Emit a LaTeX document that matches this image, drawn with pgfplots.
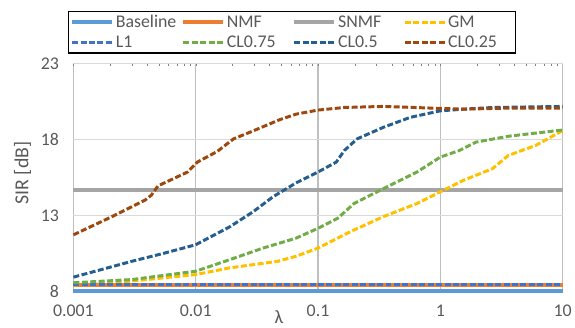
\documentclass[border=0pt]{standalone}
\usepackage{pgfplots}
\pgfplotsset{compat=1.18}
\usepackage{fontspec}
\setmainfont{Carlito}
\definecolor{cBase}{HTML}{5B9BD5}
\definecolor{cNMF}{HTML}{ED7D31}
\definecolor{cSNMF}{HTML}{A5A5A5}
\definecolor{cGM}{HTML}{FFC000}
\definecolor{cL1}{HTML}{4472C4}
\definecolor{cCL75}{HTML}{70AD47}
\definecolor{cCL5}{HTML}{255E91}
\definecolor{cCL25}{HTML}{9E480E}
\definecolor{txt}{HTML}{595959}
\begin{document}
\begin{tikzpicture}
\begin{axis}[
  name=ax,
  scale only axis,
  width=493pt, height=230pt,
  xmode=log,
  xmin=0.001, xmax=10,
  ymin=8, ymax=23,
  xtick={0.001,0.01,0.1,1,10},
  xticklabels={0.001,0.01,0.1,1,10},
  ytick={8,13,18,23},
  minor xtick={},
  axis line style={draw=none},
  major tick length=0pt,
  xmajorgrids, ymajorgrids,
  x grid style={black!25, line width=1.2pt},
  y grid style={black!15, line width=1.2pt},
  tick label style={font=\fontsize{18}{20}\selectfont, text=txt},
  /pgf/number format/assume math mode=true,
  xticklabel style={yshift=-10pt},
  yticklabel style={xshift=-11pt},
  ylabel={SIR [dB]},
  every axis y label/.style={at={(axis description cs:-0.104,0.52)}, rotate=90, anchor=center,
     font=\fontsize{20}{22}\selectfont, text=txt},
  xlabel={λ},
  every axis x label/.style={at={(axis description cs:0.42,0)}, anchor=north, yshift=-16pt,
     font=\fontsize{19}{20}\selectfont, text=txt},
  clip=false,
  legend columns=4,
  legend style={at={(rel axis cs:-0.012,1.232)}, anchor=north west,
    draw=black, line width=1.2pt, solid, font=\fontsize{18}{19}\selectfont,
    text=txt, inner sep=2pt, row sep=3pt,
    nodes={text width=64pt, align=left, inner xsep=2pt, inner ysep=2pt}},
  legend cell align=left,
  legend image code/.code={\draw[#1] (0pt,0pt) -- (40pt,0pt);},
]
\addplot[cBase, line width=4pt, solid] coordinates {(0.001,8.05) (10,8.05)};
\addlegendentry{Baseline}
\addplot[cNMF, line width=4pt, solid] coordinates {(0.001,8.45) (10,8.45)};
\addlegendentry{NMF}
\addplot[cSNMF, line width=4pt, solid] coordinates {(0.001,14.7) (10,14.7)};
\addlegendentry{SNMF}
\addplot[cGM, line width=3pt, dash pattern=on 6pt off 2.5pt] coordinates {
(0.001,8.44) (0.003,8.7) (0.01,9.13) (0.019,9.57) (0.0468,10.0) (0.066,10.33) (0.1,10.87)
(0.185,11.96) (0.343,12.94) (0.645,13.8) (1,14.57) (1.55,15.33) (2.67,16.09) (3.6,16.96)
(6.0,17.61) (10,18.59)};
\addlegendentry{GM}
\addplot[cL1, line width=3pt, dash pattern=on 6pt off 2.5pt] coordinates {(0.001,8.45) (10,8.45)};
\addlegendentry{L1}
\addplot[cCL75, line width=3pt, dash pattern=on 6pt off 2.5pt] coordinates {
(0.001,8.59) (0.003,8.8) (0.01,9.35) (0.019,10.11) (0.0355,10.87) (0.066,11.52) (0.1,12.17)
(0.145,12.83) (0.197,13.8) (0.343,14.78) (0.645,15.87) (1,16.85) (1.43,17.28) (1.95,17.83)
(3.6,18.22) (10,18.63)};
\addlegendentry{CL0.75}
\addplot[cCL5, line width=3pt, dash pattern=on 6pt off 2.5pt] coordinates {
(0.001,8.96) (0.003,10.0) (0.00556,10.54) (0.01,11.09) (0.0191,12.28) (0.0295,13.26)
(0.0428,14.24) (0.066,15.15) (0.1,15.87) (0.141,16.52) (0.164,17.28) (0.209,18.05)
(0.343,18.81) (0.567,19.46) (1,19.89) (1.55,20.0) (2.67,20.11) (10,20.18)};
\addlegendentry{CL0.5}
\addplot[cCL25, line width=3pt, dash pattern=on 6pt off 2.5pt] coordinates {
(0.001,11.74) (0.00207,12.94) (0.00385,14.02) (0.00434,14.35) (0.00492,14.96)
(0.00859,15.87) (0.0103,16.52) (0.015,17.22) (0.0204,18.05) (0.0277,18.48)
(0.0483,19.3) (0.066,19.67) (0.1,19.94) (0.164,20.11) (0.343,20.18) (1,20.05)
(1.55,20.0) (3.6,20.07) (10,20.07)};
\addlegendentry{CL0.25}
\end{axis}
\path (ax.south west) ++(-74pt,-33pt) rectangle ++(575pt,327pt);
\end{tikzpicture}
\end{document}
